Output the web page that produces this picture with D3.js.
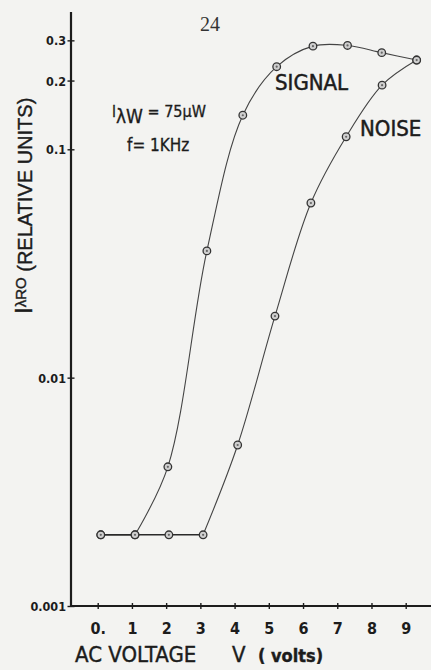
<!DOCTYPE html>
<html><head><meta charset="utf-8">
<script src="https://cdn.jsdelivr.net/npm/d3@7"></script>
<style>
html,body{margin:0;padding:0;background:#f3f3f1;}
svg{display:block;}
</style></head><body>
<svg id="chart" width="431" height="670"></svg>
<script>
// ---- data ----
const xTickValues = [0,1,2,3,4,5,6,7,8,9];
const xTickLabels = ["0.","1","2","3","4","5","6","7","8","9"];
const yTickValues = [0.001,0.01,0.1,0.2,0.3];
const yTickLabels = ["0.001","0.01","0.1","0.2","0.3"];
const signalVoltage = [0.09,1.09,2.05,3.19,4.24,5.23,6.29,7.30,8.30,9.32];
const signalValue   = [0.00205,0.00205,0.00407,0.0359,0.141,0.230,0.283,0.285,0.265,0.246];
const noiseVoltage  = [0.09,1.09,2.08,3.08,4.09,5.18,6.23,7.26,8.31,9.32];
const noiseValue    = [0.00205,0.00205,0.00205,0.00205,0.00507,0.0186,0.0582,0.1135,0.191,0.246];

// ---- layout ----
const W = 431, H = 670;
const axisLeftX = 71, axisTopY = 12, axisRightX = 431;
const ink = "#1c1c1c";
const narrow = "'Liberation Sans Narrow','DejaVu Sans Condensed','Liberation Sans',sans-serif";
const regular = "'Liberation Sans',Arial,sans-serif";

const svg = d3.select("#chart");
svg.append("rect").attr("width", W).attr("height", H).attr("fill", "#f3f3f1");

const x = d3.scaleLinear().domain([0, 9]).range([97.7, 405.7]);
const y = d3.scaleLog().domain([0.001, 0.1]).range([606, 149.3]);
const baseY = y(0.001);

// axis lines
svg.append("line").attr("x1", axisLeftX).attr("x2", axisLeftX).attr("y1", axisTopY).attr("y2", baseY + 1)
  .attr("stroke", ink).attr("stroke-width", 2.2);
svg.append("line").attr("x1", axisLeftX - 1).attr("x2", axisRightX).attr("y1", baseY).attr("y2", baseY)
  .attr("stroke", ink).attr("stroke-width", 2.2);

// x axis ticks
const gx = svg.append("g").attr("transform", `translate(0,${baseY})`)
  .call(d3.axisBottom(x).tickValues(xTickValues).tickSize(0).tickFormat((d, i) => xTickLabels[i]));
gx.select(".domain").remove();
gx.selectAll(".tick line").attr("y1", -3).attr("y2", 3).attr("stroke", ink).attr("stroke-width", 1.4);
gx.selectAll(".tick text").attr("y", 28).attr("dy", 0)
  .attr("font-family", narrow).attr("font-weight", "bold").attr("font-size", 16).attr("fill", ink);

// y axis ticks
const gy = svg.append("g").attr("transform", `translate(${axisLeftX},0)`)
  .call(d3.axisLeft(y).tickValues(yTickValues).tickSize(0).tickFormat((d, i) => yTickLabels[i]));
gy.select(".domain").remove();
gy.selectAll(".tick line").attr("x1", -3.5).attr("x2", 3.5).attr("stroke", ink).attr("stroke-width", 1.4);
gy.selectAll(".tick text").attr("x", -5).attr("dy", "0.36em")
  .attr("font-family", narrow).attr("font-weight", "bold").attr("font-size", 12.5).attr("fill", ink);

// ---- curves ----
function series(vs, is) { return vs.map((v, k) => ({ v: v, i: is[k] })); }
const signal = series(signalVoltage, signalValue);
const noise = series(noiseVoltage, noiseValue);
const lin = d3.line().x(d => x(d.v)).y(d => y(d.i));
const smooth = d3.line().x(d => x(d.v)).y(d => y(d.i)).curve(d3.curveCatmullRom.alpha(0.5));

function drawSeries(pts) {
  let split = 0;
  while (split + 1 < pts.length && pts[split + 1].i === pts[0].i) split++;
  svg.append("path").attr("d", lin(pts.slice(0, split + 1))).attr("fill", "none")
    .attr("stroke", "#2a2a2a").attr("stroke-width", 1.6);
  svg.append("path").attr("d", smooth(pts.slice(split))).attr("fill", "none")
    .attr("stroke", "#444").attr("stroke-width", 1.1);
}
drawSeries(noise);
drawSeries(signal);

function drawMarkers(pts) {
  const g = svg.append("g");
  g.selectAll("circle.m").data(pts).join("circle").attr("class", "m")
    .attr("cx", d => x(d.v)).attr("cy", d => y(d.i)).attr("r", 3.8)
    .attr("fill", "#cfcfcf").attr("stroke", "#333").attr("stroke-width", 1.3);
  g.selectAll("circle.c").data(pts).join("circle").attr("class", "c")
    .attr("cx", d => x(d.v)).attr("cy", d => y(d.i)).attr("r", 1.1).attr("fill", "#666");
}
drawMarkers(noise);
drawMarkers(signal);

// ---- texts ----
svg.append("text").attr("x", 200).attr("y", 31).attr("font-family", "'Liberation Serif',serif")
  .attr("font-size", 20).attr("fill", "#333").text("24");

svg.append("text").attr("x", 275).attr("y", 90).attr("font-family", narrow).attr("font-size", 22)
  .attr("fill", ink).attr("stroke", ink).attr("stroke-width", 0.5).text("SIGNAL");
svg.append("text").attr("x", 360).attr("y", 136).attr("font-family", narrow).attr("font-size", 22)
  .attr("fill", ink).attr("stroke", ink).attr("stroke-width", 0.5).text("NOISE");

const ann = svg.append("text").attr("x", 112).attr("y", 117).attr("font-family", narrow).attr("fill", ink)
  .attr("stroke", ink).attr("stroke-width", 0.3);
ann.append("tspan").attr("font-size", 15).text("I");
ann.append("tspan").attr("font-size", 19).attr("dy", 6).text("λW");
ann.append("tspan").attr("font-size", 16).attr("dy", -6).text(" = 75μW");
svg.append("text").attr("x", 127).attr("y", 151).attr("font-family", narrow).attr("font-size", 17)
  .attr("fill", ink).attr("stroke", ink).attr("stroke-width", 0.3).text("f= 1KHz");

// x axis title
const xt = svg.append("text").attr("x", 75).attr("y", 662).attr("font-family", narrow).attr("fill", ink)
  .attr("stroke", ink).attr("stroke-width", 0.4);
xt.append("tspan").attr("font-size", 22).text("AC VOLTAGE");
xt.append("tspan").attr("x", 232).attr("font-size", 22).text("V");
xt.append("tspan").attr("x", 258).attr("font-size", 18).attr("font-weight", "bold").text("( volts)");

// y axis title
const yt = svg.append("text").attr("transform", "translate(32,314) rotate(-90)")
  .attr("font-family", regular).attr("fill", ink).attr("stroke", ink).attr("stroke-width", 0.4);
yt.append("tspan").attr("font-size", 24).text("I");
yt.append("tspan").attr("font-size", 15).attr("dy", -6).text("λRO");
yt.append("tspan").attr("font-size", 20).attr("dy", 6).text(" (RELATIVE UNITS)");
</script>
</body></html>
